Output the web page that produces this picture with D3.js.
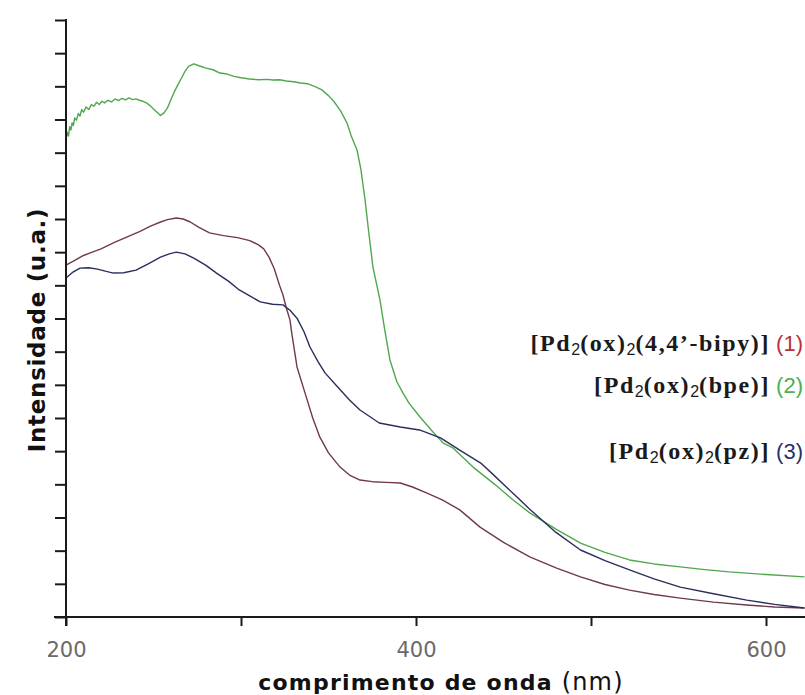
<!DOCTYPE html>
<html>
<head>
<meta charset="utf-8">
<script src="https://cdn.jsdelivr.net/npm/d3@7"></script>
<style>
  body { margin: 0; background: #fff; }
  svg { display: block; }
</style>
</head>
<body>
<svg id="chart"></svg>
<script>
// wavelength (nm) / intensity (a.u.)
const bipyNm = [200, 205, 210, 215, 220, 228, 235, 242, 248, 254, 258, 263, 267, 271, 276, 282, 290, 298, 305, 310, 313, 316, 319, 322, 324, 326, 328, 329, 332, 336.6, 341, 345, 350, 356.6, 362, 368, 375, 383, 391, 398, 406, 415, 425, 436.6, 450, 465, 480, 494, 508, 522, 536, 551, 570, 589, 605, 622];
const bipyInt = [10.61, 10.75, 10.9, 11.0, 11.1, 11.3, 11.46, 11.62, 11.78, 11.91, 11.98, 12.03, 12.0, 11.91, 11.75, 11.58, 11.5, 11.44, 11.35, 11.22, 11.1, 10.85, 10.5, 10.0, 9.71, 9.3, 8.95, 8.56, 7.54, 6.75, 6.0, 5.43, 4.95, 4.52, 4.28, 4.13, 4.08, 4.06, 4.04, 3.92, 3.74, 3.53, 3.23, 2.71, 2.25, 1.81, 1.48, 1.21, 0.98, 0.81, 0.68, 0.57, 0.45, 0.36, 0.3, 0.27];

const bpeNm = [200, 200.7, 201.4, 202.1, 202.8, 203.5, 204.2, 205, 206, 207, 208, 209, 210, 211.5, 213, 214.5, 216, 217.5, 219, 220.5, 222, 224, 226, 228, 230, 232, 234, 236, 238, 240, 242, 244, 246, 248, 250, 252, 254, 256, 258, 260, 262, 264, 266, 268, 270, 273, 276, 280, 284, 288, 292, 296, 300, 305, 310, 315, 318, 322, 326, 330, 334, 338, 342, 346, 350, 353, 357, 360.6, 363, 366.3, 368.5, 370.9, 373, 375.4, 379.4, 382, 385.1, 389, 392.6, 396, 402.3, 409.7, 415.4, 421, 424, 432.6, 445, 455, 465, 480, 494, 508, 522, 536, 551, 565, 579, 600, 622];
const bpeInt = [14.4, 14.62, 14.5, 14.78, 14.68, 14.9, 14.82, 15.05, 14.98, 15.18, 15.1, 15.3, 15.22, 15.38, 15.3, 15.45, 15.4, 15.52, 15.45, 15.55, 15.5, 15.58, 15.53, 15.62, 15.57, 15.64, 15.59, 15.65, 15.6, 15.62, 15.58, 15.55, 15.5, 15.42, 15.32, 15.22, 15.12, 15.2, 15.35, 15.6, 15.85, 16.05, 16.25, 16.45, 16.6, 16.68, 16.62, 16.55, 16.5, 16.4, 16.37, 16.3, 16.26, 16.22, 16.2, 16.21, 16.19, 16.2, 16.16, 16.14, 16.1, 16.08, 16.0, 15.9, 15.72, 15.55, 15.25, 14.89, 14.5, 14.08, 13.5, 12.57, 11.6, 10.55, 9.56, 8.7, 7.75, 7.1, 6.75, 6.45, 6.03, 5.58, 5.25, 5.1, 4.95, 4.52, 4.0, 3.55, 3.14, 2.65, 2.23, 1.95, 1.72, 1.6, 1.51, 1.43, 1.36, 1.28, 1.21];

const pzNm = [200, 204, 208, 213, 218, 223, 227, 233, 240, 247, 254, 259, 263, 268, 273, 280, 286, 293, 299, 305, 311, 318, 324, 328, 332, 336, 339.4, 344, 348, 355, 362, 368, 379, 391, 402, 414, 425, 437, 444, 451, 458, 465, 480, 494, 508, 522, 536, 551, 570, 589, 605, 622];
const pzInt = [10.22, 10.4, 10.52, 10.53, 10.49, 10.42, 10.37, 10.38, 10.46, 10.65, 10.85, 10.95, 11.0, 10.95, 10.82, 10.6, 10.37, 10.12, 9.86, 9.68, 9.5, 9.43, 9.41, 9.25, 9.01, 8.6, 8.14, 7.7, 7.36, 6.95, 6.54, 6.24, 5.85, 5.73, 5.64, 5.4, 5.03, 4.64, 4.3, 3.95, 3.6, 3.25, 2.55, 2.02, 1.7, 1.42, 1.15, 0.9, 0.7, 0.51, 0.38, 0.27];

const xTicks = [200, 300, 400, 500, 600];
const xLabels = [200, 400, 600];
const yTicks = d3.range(0, 19);

const width = 805,
  height = 695;

const svg = d3.select("#chart").attr("width", width).attr("height", height);

const x = d3.scaleLinear().domain([200, 600]).range([66, 766]);
const y = d3.scaleLinear().domain([0, 18]).range([617, 20]);

const line = d3
  .line()
  .x(d => x(d[0]))
  .y(d => y(d[1]));

const series = [
  { nm: bpeNm, val: bpeInt, color: "#4fa84f" },
  { nm: bipyNm, val: bipyInt, color: "#6e3a4c" },
  { nm: pzNm, val: pzInt, color: "#2b2e5c" }
];

series.forEach(s => {
  svg
    .append("path")
    .datum(s.nm.map((n, i) => [n, s.val[i]]))
    .attr("fill", "none")
    .attr("stroke", s.color)
    .attr("stroke-width", 1.4)
    .attr("stroke-linejoin", "round")
    .attr("d", line);
});

// axes
const xAxis = d3
  .axisBottom(x)
  .tickValues(xTicks)
  .tickSize(9)
  .tickSizeOuter(0)
  .tickFormat(d => (xLabels.includes(d) ? d : ""));

const gx = svg
  .append("g")
  .attr("transform", "translate(0,617)")
  .call(xAxis);
gx.select(".domain").remove();
gx.selectAll("line").attr("stroke", "#1a1a1a").attr("stroke-width", 2);
gx.selectAll("text")
  .attr("y", 40)
  .attr("dy", 0)
  .attr("fill", "#6a6a6a")
  .style("font-family", "'DejaVu Sans', Verdana, sans-serif")
  .style("font-size", "21px");

const yAxis = d3.axisLeft(y).tickValues(yTicks).tickSize(11).tickFormat("");
const gy = svg.append("g").attr("transform", "translate(66,0)").call(yAxis);
gy.select(".domain").remove();
gy.selectAll("line").attr("stroke", "#1a1a1a").attr("stroke-width", 2);

svg
  .append("line")
  .attr("x1", 66)
  .attr("x2", 66)
  .attr("y1", y(18) - 1)
  .attr("y2", 626)
  .attr("stroke", "#1a1a1a")
  .attr("stroke-width", 2);
svg
  .append("line")
  .attr("x1", 54)
  .attr("x2", width)
  .attr("y1", 617)
  .attr("y2", 617)
  .attr("stroke", "#1a1a1a")
  .attr("stroke-width", 2);

// axis titles
svg
  .append("text")
  .attr("transform", "translate(45,330) rotate(-90)")
  .attr("text-anchor", "middle")
  .style("font-family", "'DejaVu Sans', Verdana, sans-serif")
  .style("font-size", "23px")
  .style("font-weight", "bold")
  .style("letter-spacing", "0.7px")
  .attr("fill", "#111")
  .text("Intensidade (u.a.)");

const xt = svg
  .append("text")
  .attr("x", 441)
  .attr("y", 690)
  .attr("text-anchor", "middle")
  .style("font-family", "'DejaVu Sans', Verdana, sans-serif")
  .style("letter-spacing", "1.2px")
  .attr("fill", "#111");
xt.append("tspan").style("font-weight", "bold").style("font-size", "22px").text("comprimento de onda ");
xt.append("tspan").style("font-size", "24px").text("(nm)");

// legend
const legend = [
  { parts: ["[Pd", "2", "(ox)", "2", "(4,4\u2019-bipy)]"], tag: "(1)", color: "#b8323c", y: 351 },
  { parts: ["[Pd", "2", "(ox)", "2", "(bpe)]"], tag: "(2)", color: "#4cb04c", y: 393 },
  { parts: ["[Pd", "2", "(ox)", "2", "(pz)]"], tag: "(3)", color: "#2b2e6a", y: 459 }
];

legend.forEach(l => {
  const t = svg
    .append("text")
    .attr("x", 803)
    .attr("y", l.y)
    .attr("text-anchor", "end")
    .attr("fill", "#1a1a1a");
  l.parts.forEach((p, i) => {
    const sub = i % 2 === 1;
    t.append("tspan")
      .attr("dy", sub ? 4 : i === 0 ? 0 : -4)
      .style("font-family", sub ? "'Liberation Sans', Arial, sans-serif" : "'Liberation Serif', 'Times New Roman', serif")
      .style("font-weight", sub ? "normal" : "bold")
      .style("font-size", sub ? "16px" : "24px")
      .style("letter-spacing", sub ? "0px" : "1.6px")
      .text(p);
  });
  t.append("tspan")
    .style("font-family", "'Liberation Sans', Arial, sans-serif")
    .style("font-size", "22px")
    .attr("fill", l.color)
    .text(" " + l.tag);
});
</script>
</body>
</html>
